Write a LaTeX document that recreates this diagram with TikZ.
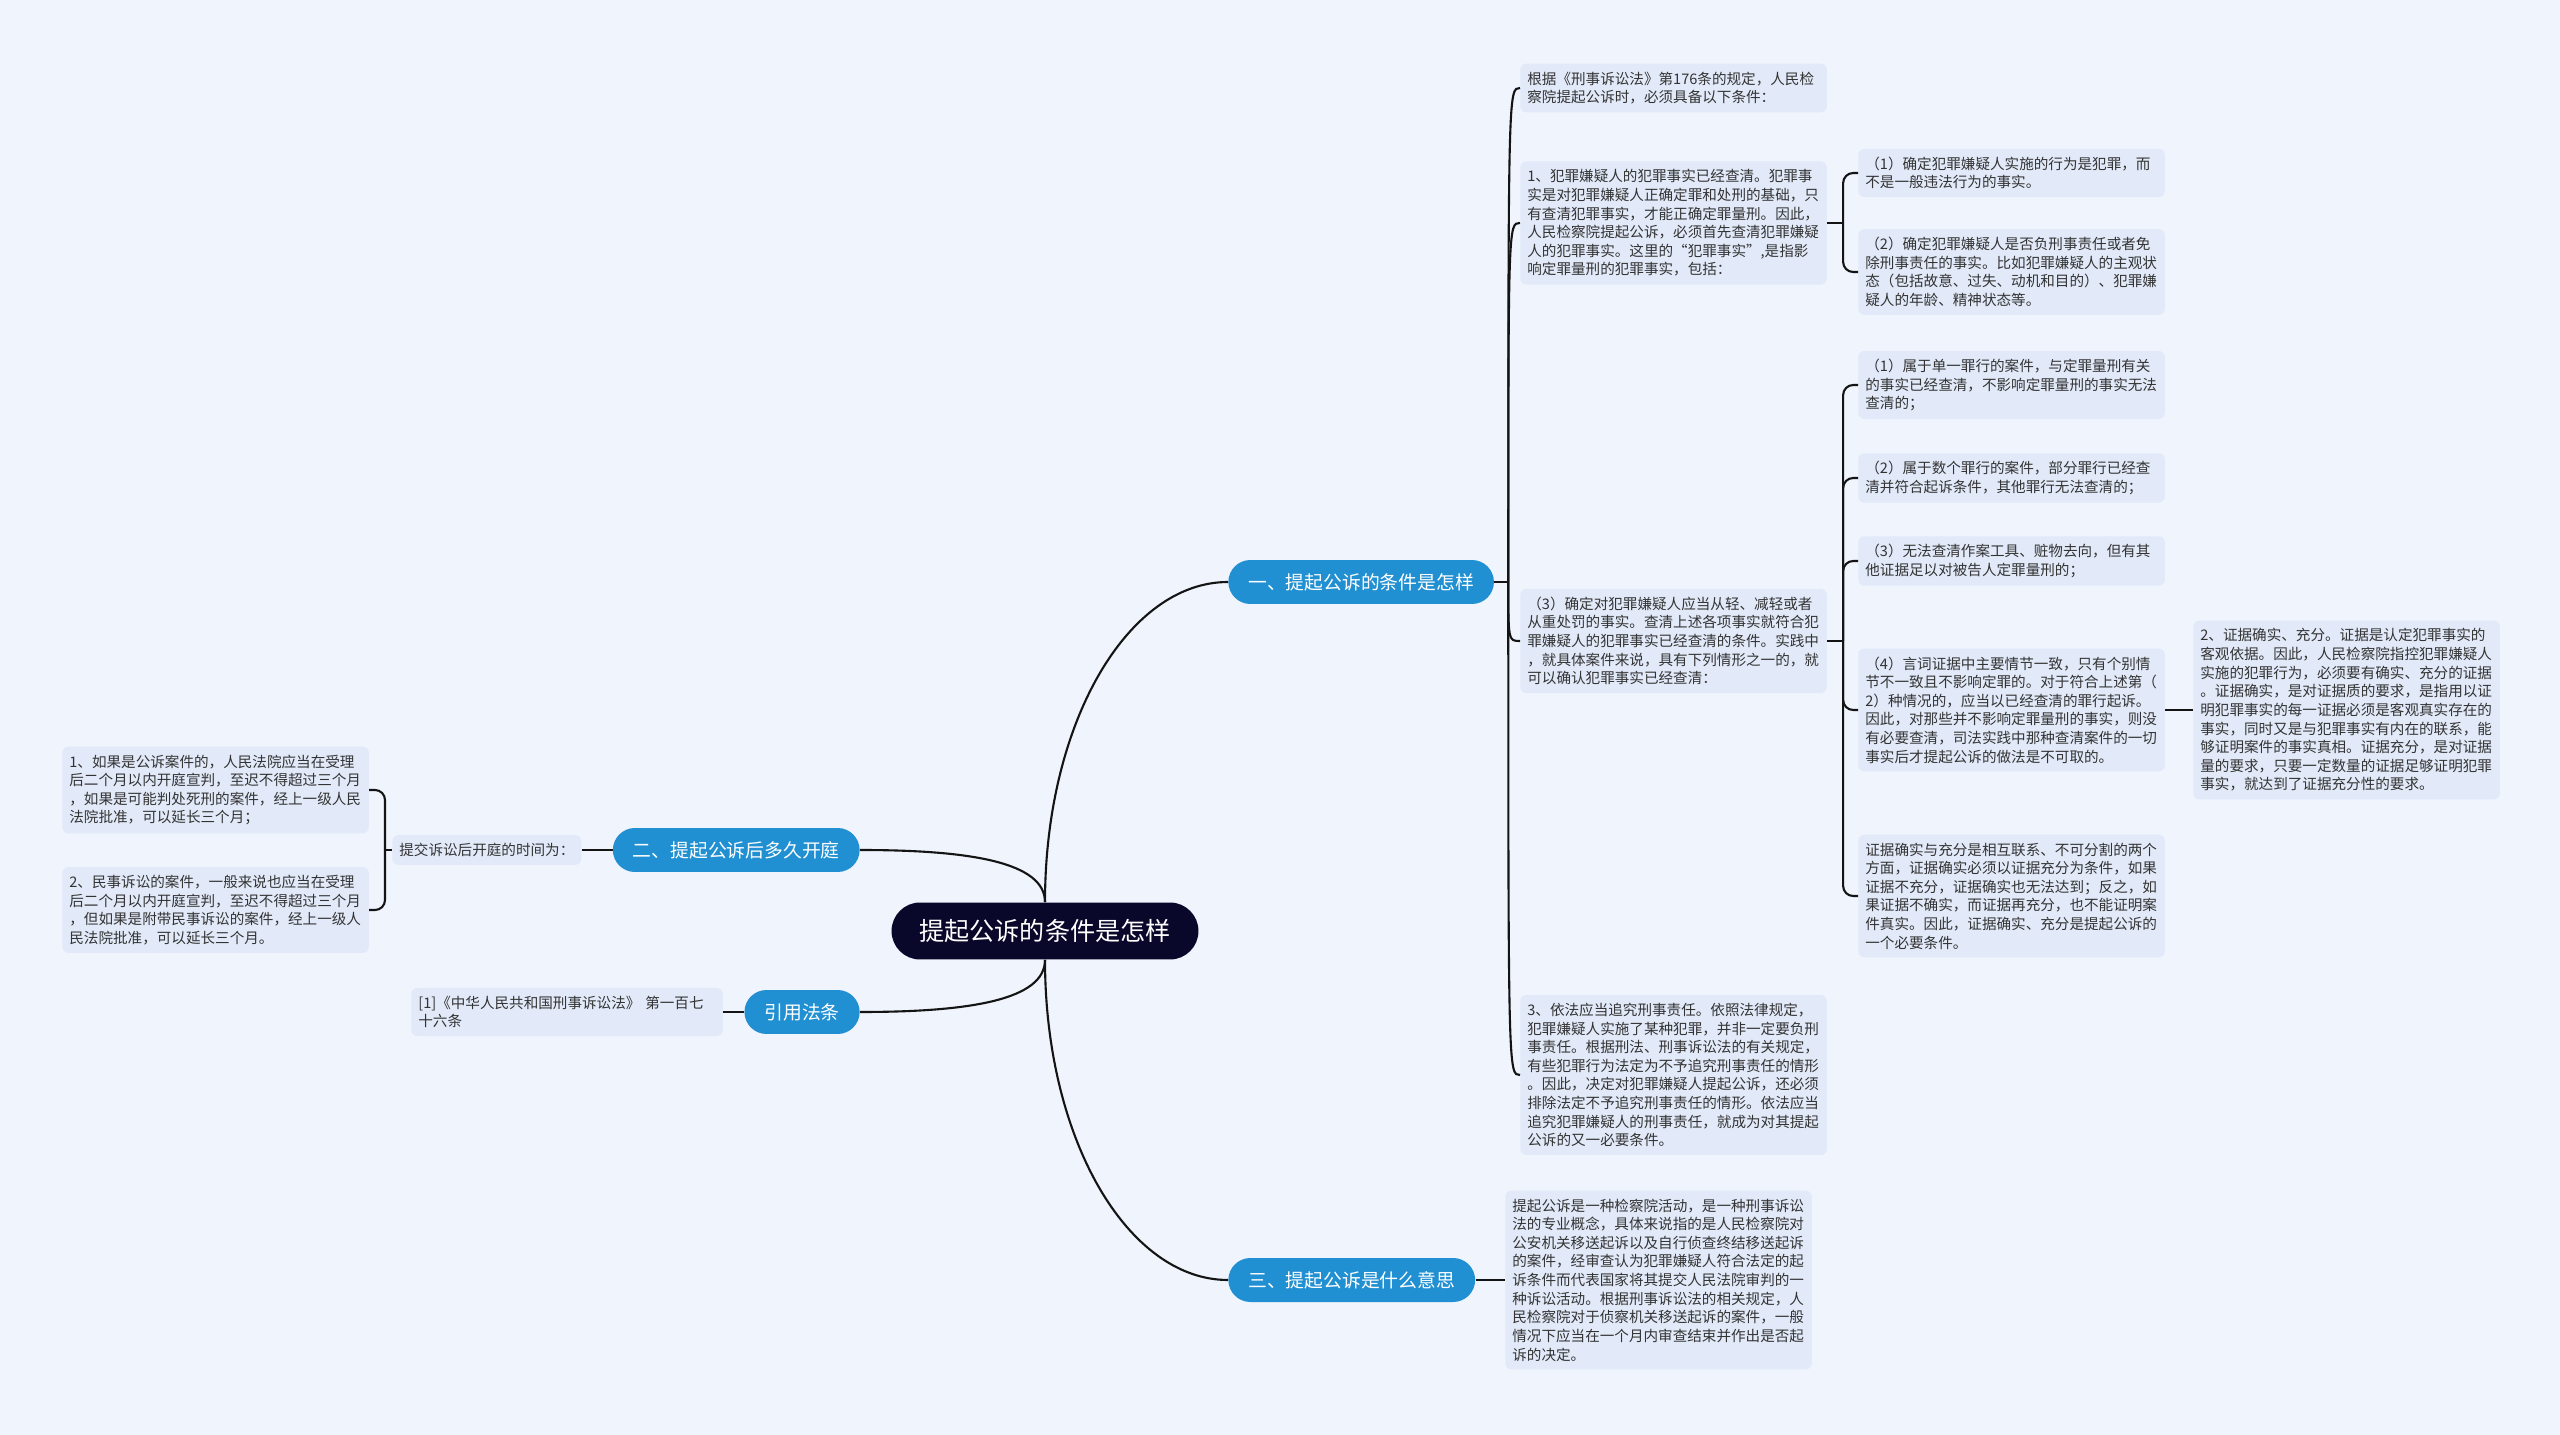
\documentclass[tikz,border=0pt]{standalone}
\usepackage{fontspec}
\setmainfont{Noto Sans CJK SC}
\usepackage{tikz}
\usepackage{xcolor}
\usetikzlibrary{positioning,calc}

\definecolor{bgblue}{RGB}{239,244,253}
\definecolor{leafblue}{RGB}{226,234,249}
\definecolor{branchblue}{RGB}{33,144,210}
\definecolor{topicnavy}{RGB}{10,8,42}
\definecolor{inkgray}{RGB}{51,51,51}

\begin{document}
\begin{tikzpicture}[
          x=0.02cm, y=-0.02cm,
          topic/.style={fill=topicnavy, text=white, font=\fontsize{14.3}{16}\selectfont, minimum width=6.14cm, minimum height=1.14cm, rounded corners=0.57cm},
          branch/.style={fill=branchblue, text=white, font=\fontsize{10.7}{13}\selectfont, inner xsep=0.4cm, minimum height=0.88cm, rounded corners=0.44cm},
          leaf/.style={fill=leafblue, text=inkgray, font=\fontsize{8.3}{10.6}\selectfont, align=left, text width=5.85cm, inner xsep=0.14cm, inner ysep=0.16cm, rounded corners=0.12cm},
          link/.style={draw=black!92, line width=1.2pt},
          hook/.style={link, rounded corners=0.2cm}
      ]
        \fill[bgblue] (0,0) rectangle (2560,1435);
        \useasboundingbox (0,0) rectangle (2560,1435);
        \node[topic] (top) at (1045,931) {提起公诉的条件是怎样};
        \node[branch, anchor=west] (b1) at (1228,582) {一、提起公诉的条件是怎样};
        \node[branch, anchor=east] (b2) at (860,850) {二、提起公诉后多久开庭};
        \node[branch, anchor=east] (b4) at (860,1012) {引用法条};
        \node[branch, anchor=west] (b3) at (1228,1280) {三、提起公诉是什么意思};
        \node[leaf, anchor=west] (c0) at (1520,88) {根据《刑事诉讼法》第176条的规定，人民检\\察院提起公诉时，必须具备以下条件：};
        \node[leaf, anchor=west] (c1) at (1520,223) {1、犯罪嫌疑人的犯罪事实已经查清。犯罪事\\实是对犯罪嫌疑人正确定罪和处刑的基础，只\\有查清犯罪事实，才能正确定罪量刑。因此，\\人民检察院提起公诉，必须首先查清犯罪嫌疑\\人的犯罪事实。这里的“犯罪事实”,是指影\\响定罪量刑的犯罪事实，包括：};
        \node[leaf, anchor=west] (c2) at (1520,641) {（3）确定对犯罪嫌疑人应当从轻、减轻或者\\从重处罚的事实。查清上述各项事实就符合犯\\罪嫌疑人的犯罪事实已经查清的条件。实践中\\，就具体案件来说，具有下列情形之一的，就\\可以确认犯罪事实已经查清：};
        \node[leaf, anchor=west] (c3) at (1520,1075) {3、依法应当追究刑事责任。依照法律规定，\\犯罪嫌疑人实施了某种犯罪，并非一定要负刑\\事责任。根据刑法、刑事诉讼法的有关规定，\\有些犯罪行为法定为不予追究刑事责任的情形\\。因此，决定对犯罪嫌疑人提起公诉，还必须\\排除法定不予追究刑事责任的情形。依法应当\\追究犯罪嫌疑人的刑事责任，就成为对其提起\\公诉的又一必要条件。};
        \node[leaf, anchor=west] (d1) at (1858,173) {（1）确定犯罪嫌疑人实施的行为是犯罪，而\\不是一般违法行为的事实。};
        \node[leaf, anchor=west] (d2) at (1858,272) {（2）确定犯罪嫌疑人是否负刑事责任或者免\\除刑事责任的事实。比如犯罪嫌疑人的主观状\\态（包括故意、过失、动机和目的）、犯罪嫌\\疑人的年龄、精神状态等。};
        \node[leaf, anchor=west] (e1) at (1858,385) {（1）属于单一罪行的案件，与定罪量刑有关\\的事实已经查清，不影响定罪量刑的事实无法\\查清的；};
        \node[leaf, anchor=west] (e2) at (1858,478) {（2）属于数个罪行的案件，部分罪行已经查\\清并符合起诉条件，其他罪行无法查清的；};
        \node[leaf, anchor=west] (e3) at (1858,561) {（3）无法查清作案工具、赃物去向，但有其\\他证据足以对被告人定罪量刑的；};
        \node[leaf, anchor=west] (e4) at (1858,710) {（4）言词证据中主要情节一致，只有个别情\\节不一致且不影响定罪的。对于符合上述第（\\2）种情况的，应当以已经查清的罪行起诉。\\因此，对那些并不影响定罪量刑的事实，则没\\有必要查清，司法实践中那种查清案件的一切\\事实后才提起公诉的做法是不可取的。};
        \node[leaf, anchor=west] (e5) at (1858,896) {证据确实与充分是相互联系、不可分割的两个\\方面，证据确实必须以证据充分为条件，如果\\证据不充分，证据确实也无法达到；反之，如\\果证据不确实，而证据再充分，也不能证明案\\件真实。因此，证据确实、充分是提起公诉的\\一个必要条件。};
        \node[leaf, anchor=west] (e4a) at (2193,710) {2、证据确实、充分。证据是认定犯罪事实的\\客观依据。因此，人民检察院指控犯罪嫌疑人\\实施的犯罪行为，必须要有确实、充分的证据\\。证据确实，是对证据质的要求，是指用以证\\明犯罪事实的每一证据必须是客观真实存在的\\事实，同时又是与犯罪事实有内在的联系，能\\够证明案件的事实真相。证据充分，是对证据\\量的要求，只要一定数量的证据足够证明犯罪\\事实，就达到了证据充分性的要求。};
        \node[leaf, anchor=west] (g1) at (1505,1280) {提起公诉是一种检察院活动，是一种刑事诉讼\\法的专业概念，具体来说指的是人民检察院对\\公安机关移送起诉以及自行侦查终结移送起诉\\的案件，经审查认为犯罪嫌疑人符合法定的起\\诉条件而代表国家将其提交人民法院审判的一\\种诉讼活动。根据刑事诉讼法的相关规定，人\\民检察院对于侦察机关移送起诉的案件，一般\\情况下应当在一个月内审查结束并作出是否起\\诉的决定。};
        \node[leaf, anchor=west, text width=3.5cm] (h0) at (392,850) {提交诉讼后开庭的时间为：};
        \node[leaf, anchor=west] (h1) at (62,790) {1、如果是公诉案件的，人民法院应当在受理\\后二个月以内开庭宣判，至迟不得超过三个月\\，如果是可能判处死刑的案件，经上一级人民\\法院批准，可以延长三个月；};
        \node[leaf, anchor=west] (h2) at (62,910) {2、民事诉讼的案件，一般来说也应当在受理\\后二个月以内开庭宣判，至迟不得超过三个月\\，但如果是附带民事诉讼的案件，经上一级人\\民法院批准，可以延长三个月。};
        \node[leaf, anchor=west, text width=5.95cm] (law) at (411,1012) {[1]《中华人民共和国刑事诉讼法》~第一百七\\十六条};
        \draw[link] (top.north) .. controls +(0,-180) and +(-100,0) .. (b1.west);
        \draw[link] (top.south) .. controls +(0,180) and +(-100,0) .. (b3.west);
        \draw[link] (top.north) .. controls +(0,-40) and +(110,0) .. (b2.east);
        \draw[link] (top.south) .. controls +(0,40) and +(110,0) .. (b4.east);
        \draw[link] (b1.east) -- ++(14,0) coordinate (j0);
        \foreach \c in {c0,c1,c2,c3}
          \draw[link] (j0) .. controls (j0 |- \c.west) .. (\c.west);
        \draw[link] (c1.east) -- ++(16,0) coordinate (j1);
        \foreach \d in {d1,d2}
          \draw[hook] (j1) |- (\d.west);
        \draw[link] (c2.east) -- ++(16,0) coordinate (j2);
        \foreach \e in {e1,e2,e3,e4,e5}
          \draw[hook] (j2) |- (\e.west);
        \draw[link] (e4.east) -- (e4a.west);
        \draw[link] (b3.east) -- (g1.west);
        \draw[link] (b2.west) -- (h0.east);
        \draw[link] (h0.west) -- ++(-7,0) coordinate (j3);
        \foreach \h in {h1,h2}
          \draw[hook] (j3) |- (\h.east);
        \draw[link] (b4.west) -- (law.east);
      \end{tikzpicture}
\end{document}
